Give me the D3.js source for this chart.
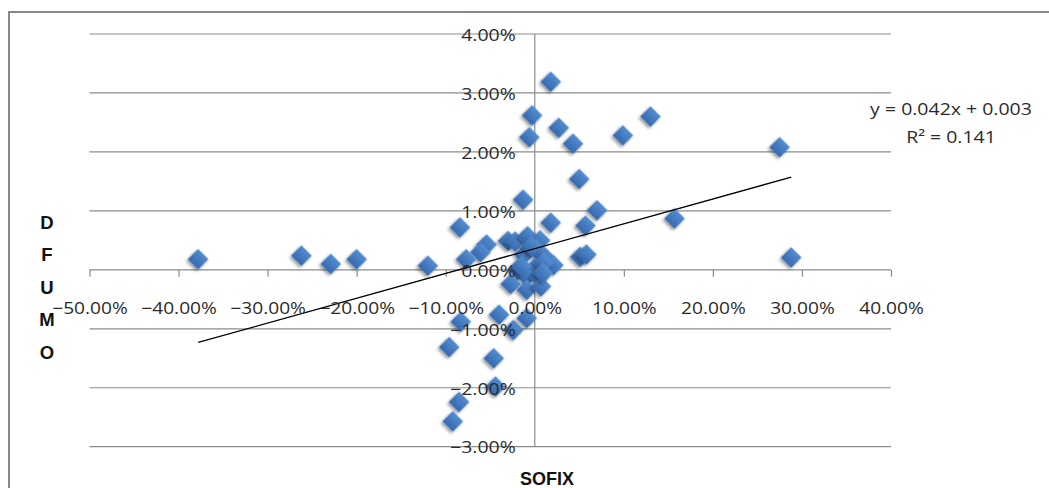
<!DOCTYPE html>
<html>
<head>
<meta charset="utf-8">
<script src="https://cdn.jsdelivr.net/npm/d3@7"></script>
<style>
  body { margin: 0; background: #fff; }
  svg { display: block; }
</style>
</head>
<body>
<svg width="1049" height="488"></svg>
<script>
// SOFIX monthly return (x) vs DFUMO return (y), both as fractions
let sofix = [
  -0.378, -0.262, -0.229, -0.200, -0.120,
  0.018, -0.003, -0.006, 0.027, 0.043, 0.099, 0.130, 0.050, -0.013, 0.275, 0.157, 0.288, 0.070,
  -0.084, 0.018, 0.057, -0.054, -0.061, -0.077, -0.030, -0.022, -0.008, 0.006, -0.012, 0.002,
  0.013, 0.021, 0.000, -0.019, -0.009, 0.005, -0.027, -0.009, 0.007, 0.051, 0.058, -0.004, 0.010,
  -0.015, 0.009,
  -0.083, -0.040, -0.024, -0.009, -0.096, -0.046, -0.044, -0.085, -0.092
];
let dfumo = [
  0.0018, 0.0024, 0.0010, 0.0018, 0.0007,
  0.0319, 0.0262, 0.0225, 0.0241, 0.0214, 0.0228, 0.0260, 0.0154, 0.0119, 0.0208, 0.0087, 0.0021, 0.0101,
  0.0072, 0.0080, 0.0075, 0.0043, 0.0030, 0.0018, 0.0049, 0.0048, 0.0057, 0.0050, 0.0026, 0.0035,
  0.0019, 0.0008, 0.0003, 0.0000, -0.0011, -0.0012, -0.0024, -0.0034, -0.0028, 0.0022, 0.0026, 0.0040, 0.0012,
  0.0006, -0.0005,
  -0.0088, -0.0076, -0.0102, -0.0082, -0.0131, -0.0150, -0.0198, -0.0224, -0.0257
];
let xTicks = [-0.5, -0.4, -0.3, -0.2, -0.1, 0, 0.1, 0.2, 0.3, 0.4];
let yTicks = [-0.03, -0.02, -0.01, 0, 0.01, 0.02, 0.03, 0.04];
let trendSlope = 0.0421;
let trendIntercept = 0.0036;
let trendLabel = ['y = 0.042x + 0.003', 'R² = 0.141'];
let yTitle = ['D', 'F', 'U', 'M', 'O'];
let xTitle = 'SOFIX';

let points = sofix.map((x, i) => ({x: x, y: dfumo[i]}));

let svg = d3.select('svg');
let pct = d3.format('.2%');

let xScale = d3.scaleLinear().domain([-0.5, 0.4]).range([89.5, 891]);
let yScale = d3.scaleLinear().domain([-0.03, 0.04]).range([446.7, 34]);

// stretch text a bit wider, the original labels are drawn wide
function stretch(sel, k) {
  sel.each(function() {
    let w = this.getComputedTextLength();
    d3.select(this).attr('textLength', w * k).attr('lengthAdjust', 'spacingAndGlyphs');
  });
}

let defs = svg.append('defs');
let grad = defs.append('linearGradient')
    .attr('id', 'dia')
    .attr('x1', 0).attr('y1', 0).attr('x2', 0).attr('y2', 1);
grad.append('stop').attr('offset', '0%').attr('stop-color', '#538dd0');
grad.append('stop').attr('offset', '100%').attr('stop-color', '#3769ae');
defs.append('filter')
    .attr('id', 'shadow')
    .attr('x', '-50%').attr('y', '-50%').attr('width', '200%').attr('height', '200%')
  .append('feDropShadow')
    .attr('dx', 0).attr('dy', 2.5)
    .attr('stdDeviation', 1.6)
    .attr('flood-color', '#000')
    .attr('flood-opacity', 0.4);

// chart frame
svg.append('path')
    .attr('d', 'M9,488 V12 H1049')
    .attr('fill', 'none')
    .attr('stroke', '#878787')
    .attr('stroke-width', 2);

// horizontal gridlines
svg.append('g')
  .selectAll('line')
  .data(yTicks)
  .enter()
  .append('line')
    .attr('x1', xScale(-0.5))
    .attr('x2', xScale(0.4))
    .attr('y1', d => yScale(d))
    .attr('y2', d => yScale(d))
    .attr('stroke', '#8c8c8c')
    .attr('stroke-width', 1.2);

// vertical axis line
svg.append('line')
    .attr('x1', xScale(0)).attr('x2', xScale(0))
    .attr('y1', yScale(0.04)).attr('y2', yScale(-0.03))
    .attr('stroke', '#8c8c8c')
    .attr('stroke-width', 1.2);

// x ticks (labels come later, on top of the markers)
let xAxis = svg.append('g')
    .attr('transform', `translate(0,${yScale(0)})`)
    .call(d3.axisBottom(xScale).tickValues(xTicks).tickSize(7).tickPadding(25).tickFormat(pct));
xAxis.select('.domain').remove();
xAxis.selectAll('line').attr('stroke', '#8c8c8c').attr('stroke-width', 1.2);
xAxis.selectAll('text').remove();

// markers
svg.append('g')
  .selectAll('path')
  .data(points)
  .enter()
  .append('path')
    .attr('d', d3.symbol(d3.symbolSquare, 215))
    .attr('transform', d => `translate(${xScale(d.x)},${yScale(d.y)}) rotate(45)`)
    .attr('fill', 'url(#dia)')
    .attr('filter', 'url(#shadow)');

// trend line
let ext = d3.extent(sofix);
svg.append('line')
    .attr('x1', xScale(ext[0]))
    .attr('y1', yScale(trendSlope * ext[0] + trendIntercept))
    .attr('x2', xScale(ext[1]))
    .attr('y2', yScale(trendSlope * ext[1] + trendIntercept))
    .attr('stroke', '#000')
    .attr('stroke-width', 1.3);

let labelFont = "'Open Sans', sans-serif";

// x labels
let xl = svg.append('g')
    .attr('transform', `translate(0,${yScale(0)})`)
    .call(d3.axisBottom(xScale).tickValues(xTicks).tickSize(7).tickPadding(25).tickFormat(pct));
xl.select('.domain').remove();
xl.selectAll('line').remove();
xl.selectAll('text')
    .attr('font-family', labelFont)
    .attr('font-size', 16.5)
    .attr('fill', '#2a2a2a')
    .call(stretch, 1.16);

// y labels
let yl = svg.append('g')
    .attr('transform', `translate(${xScale(0)},1)`)
    .call(d3.axisLeft(yScale).tickValues(yTicks).tickSize(0).tickPadding(19).tickFormat(pct));
yl.select('.domain').remove();
yl.selectAll('text')
    .attr('font-family', labelFont)
    .attr('font-size', 16.5)
    .attr('fill', '#2a2a2a')
    .call(stretch, 1.18);

// trend equation
svg.append('g')
  .selectAll('text')
  .data(trendLabel)
  .enter()
  .append('text')
    .attr('x', 951)
    .attr('y', (d, i) => 115 + i * 27.5)
    .attr('text-anchor', 'middle')
    .attr('font-family', labelFont)
    .attr('font-size', 16.5)
    .attr('fill', '#2a2a2a')
    .text(d => d)
    .call(stretch, 1.18);

// axis titles
svg.append('g')
  .selectAll('text')
  .data(yTitle)
  .enter()
  .append('text')
    .attr('x', 47)
    .attr('y', (d, i) => 228.5 + i * 32.5)
    .attr('text-anchor', 'middle')
    .attr('font-family', "'Liberation Sans', Arial, sans-serif")
    .attr('font-weight', 'bold')
    .attr('font-size', 18.5)
    .attr('fill', '#111')
    .text(d => d);

svg.append('text')
    .attr('x', 547)
    .attr('y', 485)
    .attr('text-anchor', 'middle')
    .attr('font-family', "'Liberation Sans', Arial, sans-serif")
    .attr('font-weight', 'bold')
    .attr('font-size', 18)
    .attr('fill', '#111')
    .text(xTitle);
</script>
</body>
</html>
